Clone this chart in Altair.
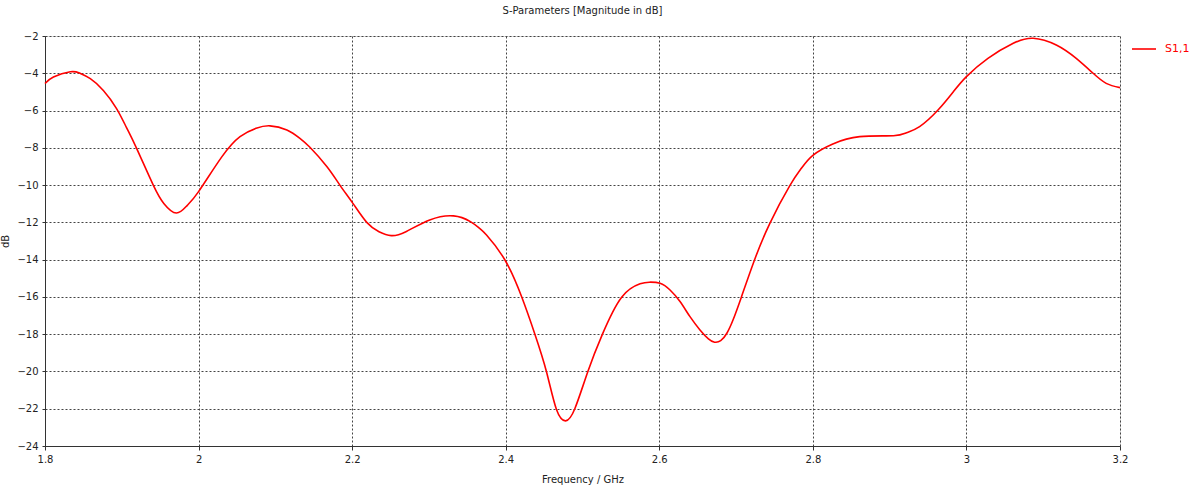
import altair as alt
import pandas as pd

freq = [1.800, 1.811, 1.833, 1.845, 1.859, 1.876, 1.893, 1.906, 1.919, 1.941, 1.955,
        1.971, 1.985, 2.000, 2.030, 2.054, 2.075, 2.093, 2.115, 2.132, 2.145, 2.167, 2.184,
        2.201, 2.219, 2.235, 2.251, 2.270, 2.301, 2.332, 2.354, 2.366, 2.375, 2.399, 2.421,
        2.438, 2.453, 2.466, 2.478, 2.490, 2.507, 2.526, 2.551, 2.575, 2.587, 2.601, 2.614,
        2.627, 2.640, 2.653, 2.664, 2.672, 2.680, 2.688, 2.696, 2.707, 2.724, 2.744, 2.770, 2.785,
        2.800, 2.826, 2.861, 2.905, 2.922, 2.939, 2.963, 2.983, 3.000, 3.028,
        3.061, 3.087, 3.117, 3.143, 3.165, 3.182, 3.200]
s11 = [-4.55, -4.2, -3.92, -3.99, -4.29, -4.92, -5.88, -6.9, -8.0, -10.0, -11.0,
       -11.5, -11.1, -10.35, -8.5, -7.4, -6.95, -6.82, -7.04, -7.49, -7.97, -9.0, -10.0,
       -10.98, -12.0, -12.5, -12.71, -12.5, -11.87, -11.65, -11.96, -12.32, -12.68, -14.02, -16.02,
       -18.0, -20.0, -22.03, -22.65, -22.0, -20.0, -18.0, -16.02, -15.3, -15.21, -15.27, -15.63,
       -16.25, -17.06, -17.77, -18.25, -18.43, -18.35, -17.95, -17.24, -16.0, -14.02, -12.05, -10.03, -9.1,
       -8.4, -7.79, -7.40, -7.35, -7.19, -6.86, -5.97, -4.99, -4.18, -3.2,
       -2.39, -2.12, -2.48, -3.2, -4.0, -4.54, -4.77]
series = "S1,1"

x_ticks = [1.8, 2.0, 2.2, 2.4, 2.6, 2.8, 3.0, 3.2]
y_ticks = [-2, -4, -6, -8, -10, -12, -14, -16, -18, -20, -22, -24]

df = pd.DataFrame({"f": freq, "db": s11, "series": [series] * len(freq)})

FONT = "DejaVu Sans"
GRID = "#444444"

chart = alt.Chart(df).mark_line(strokeWidth=1.6, interpolate="natural").encode(
    x=alt.X("f:Q", scale=alt.Scale(domain=[1.8, 3.2], nice=False, zero=False),
            axis=alt.Axis(values=x_ticks, format="~g", title="Frequency / GHz", grid=True,
                          gridDash=[2, 2], gridColor=GRID, gridOpacity=1,
                          domainColor="#333333", tickColor="#333333", tickSize=4,
                          labelFont=FONT, labelFontSize=10, labelColor="#222222",
                          labelPadding=4, titleFont=FONT, titleFontSize=10,
                          titleFontWeight="normal", titleColor="#222222", titlePadding=10,
                          labelFlush=False, labelOverlap=False)),
    y=alt.Y("db:Q", scale=alt.Scale(domain=[-24, -2], nice=False, zero=False),
            axis=alt.Axis(values=y_ticks, title="dB", grid=True,
                          gridDash=[2, 2], gridColor=GRID, gridOpacity=1,
                          domainColor="#333333", tickColor="#333333", tickSize=3,
                          labelFont=FONT, labelFontSize=10, labelColor="#222222",
                          labelPadding=4, titleFont=FONT, titleFontSize=10,
                          titleFontWeight="normal", titleColor="#222222", titlePadding=6,
                          labelFlush=False, labelOverlap=False)),
    color=alt.Color("series:N", scale=alt.Scale(domain=[series], range=["#ff0000"]),
                    legend=alt.Legend(title=None, orient="none", legendX=1086, legendY=0,
                                      symbolType="stroke", symbolSize=576, symbolStrokeWidth=1.6,
                                      labelColor="#ff0000", labelFont=FONT, labelFontSize=11,
                                      labelOffset=8)),
).properties(
    width=1075,
    height=410,
    title=alt.TitleParams("S-Parameters [Magnitude in dB]", font=FONT, fontSize=10,
                          fontWeight="normal", color="#222222", anchor="middle", offset=15),
    autosize=alt.AutoSizeParams(type="none"),
    padding={"left": 45, "top": 36, "right": 80, "bottom": 49},
).configure_view(
    stroke="#333333", strokeWidth=1
).configure(background="white")

chart.save("out.html", embed_options={"renderer": "svg", "actions": False})
